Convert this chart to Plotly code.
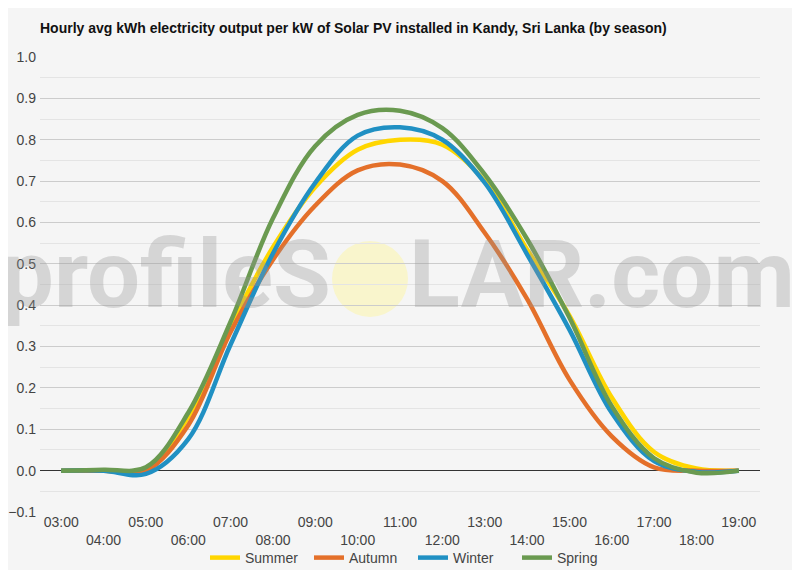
import plotly.graph_objects as go

# hourly categories
hours = ["03:00", "04:00", "05:00", "06:00", "07:00", "08:00", "09:00", "10:00", "11:00",
         "12:00", "13:00", "14:00", "15:00", "16:00", "17:00", "18:00", "19:00"]

# avg kWh per kW installed
summer = [0.0, 0.0, 0.005, 0.13, 0.35, 0.54, 0.686, 0.776, 0.80, 0.788, 0.70, 0.535, 0.375, 0.177, 0.045, 0.005, 0.0]
autumn = [0.0, 0.0, 0.0, 0.11, 0.335, 0.51, 0.641, 0.726, 0.74, 0.70, 0.575, 0.415, 0.22, 0.083, 0.008, 0.0, 0.0]
winter = [0.0, 0.0, -0.008, 0.076, 0.305, 0.525, 0.696, 0.81, 0.83, 0.80, 0.696, 0.523, 0.341, 0.14, 0.023, -0.003, 0.0]
spring = [0.0, 0.002, 0.008, 0.14, 0.36, 0.61, 0.785, 0.86, 0.87, 0.828, 0.716, 0.56, 0.37, 0.156, 0.03, -0.005, 0.0]

seasons = ["Summer", "Autumn", "Winter", "Spring"]
colors = ["#FFD600", "#E4702A", "#2090C3", "#6A9A50"]

# alternate tick labels on two rows
tick_text = [h if i % 2 == 0 else "<br>" + h for i, h in enumerate(hours)]

fig = go.Figure()

for name, vals, col in zip(seasons, [summer, autumn, winter, spring], colors):
    fig.add_trace(go.Scatter(
        x=hours, y=vals, name=name, mode="lines",
        line=dict(color=col, width=4.5, shape="spline", smoothing=1.0),
        hoverinfo="skip",
    ))

# page has an 8px body margin; plot area on the page: x 40..760, y 57..512
def px_x(p):
    return (p - 40) / 720

def px_y(p):
    return (512 - p) / 455

# watermark
fig.add_shape(type="circle", xref="paper", yref="paper", layer="below",
              x0=px_x(332), x1=px_x(408), y0=px_y(317), y1=px_y(241),
              fillcolor="#f9f5cc", line=dict(width=0))
wm_font = dict(family="Roboto", size=94, weight="bold", color="rgba(150,150,150,0.33)")
fig.add_annotation(text="profileS", xref="paper", yref="paper", x=px_x(333), y=px_y(275),
                   xanchor="right", yanchor="middle", showarrow=False, font=wm_font)
fig.add_annotation(text="LAR.com", xref="paper", yref="paper", x=px_x(407), y=px_y(275),
                   xanchor="left", yanchor="middle", showarrow=False, font=wm_font)

fig.update_layout(
    width=792, height=562,
    margin=dict(l=32, r=40, t=49, b=58, autoexpand=False),
    paper_bgcolor="#f5f5f5",
    plot_bgcolor="#f5f5f5",
    font=dict(family="Liberation Sans, Arial", size=14, color="#444444"),
    title=dict(
        text="<b>Hourly avg kWh electricity output per kW of Solar PV installed in Kandy, Sri Lanka (by season)</b>",
        x=32 / 792, xanchor="left", xref="container",
        y=1 - 20 / 562, yanchor="middle", yref="container",
        font=dict(family="Liberation Sans, Arial", size=14, color="#111111"),
    ),
    xaxis=dict(
        type="category",
        range=[-0.5, len(hours) - 0.5],
        tickvals=hours, ticktext=tick_text,
        showgrid=False, zeroline=False, showline=False, automargin=False,
        ticks="", tickfont=dict(size=14, color="#444444"),
    ),
    yaxis=dict(
        range=[-0.1, 1.0],
        dtick=0.1, tick0=0, tickformat=".1f", automargin=False,
        showgrid=True, gridcolor="#cccccc", gridwidth=1,
        zeroline=True, zerolinecolor="#333333", zerolinewidth=1,
        minor=dict(dtick=0.05, showgrid=True, gridcolor="#e4e4e4"),
        ticks="", ticklabelstandoff=3, tickfont=dict(size=14, color="#444444"),
    ),
    legend=dict(
        orientation="h", x=px_x(205), xanchor="left",
        y=px_y(558), yanchor="middle",
        font=dict(size=14, color="#444444"),
        bgcolor="rgba(0,0,0,0)",
        entrywidth=59, entrywidthmode="pixels",
    ),
    showlegend=True,
)

fig.write_html("out.html")
